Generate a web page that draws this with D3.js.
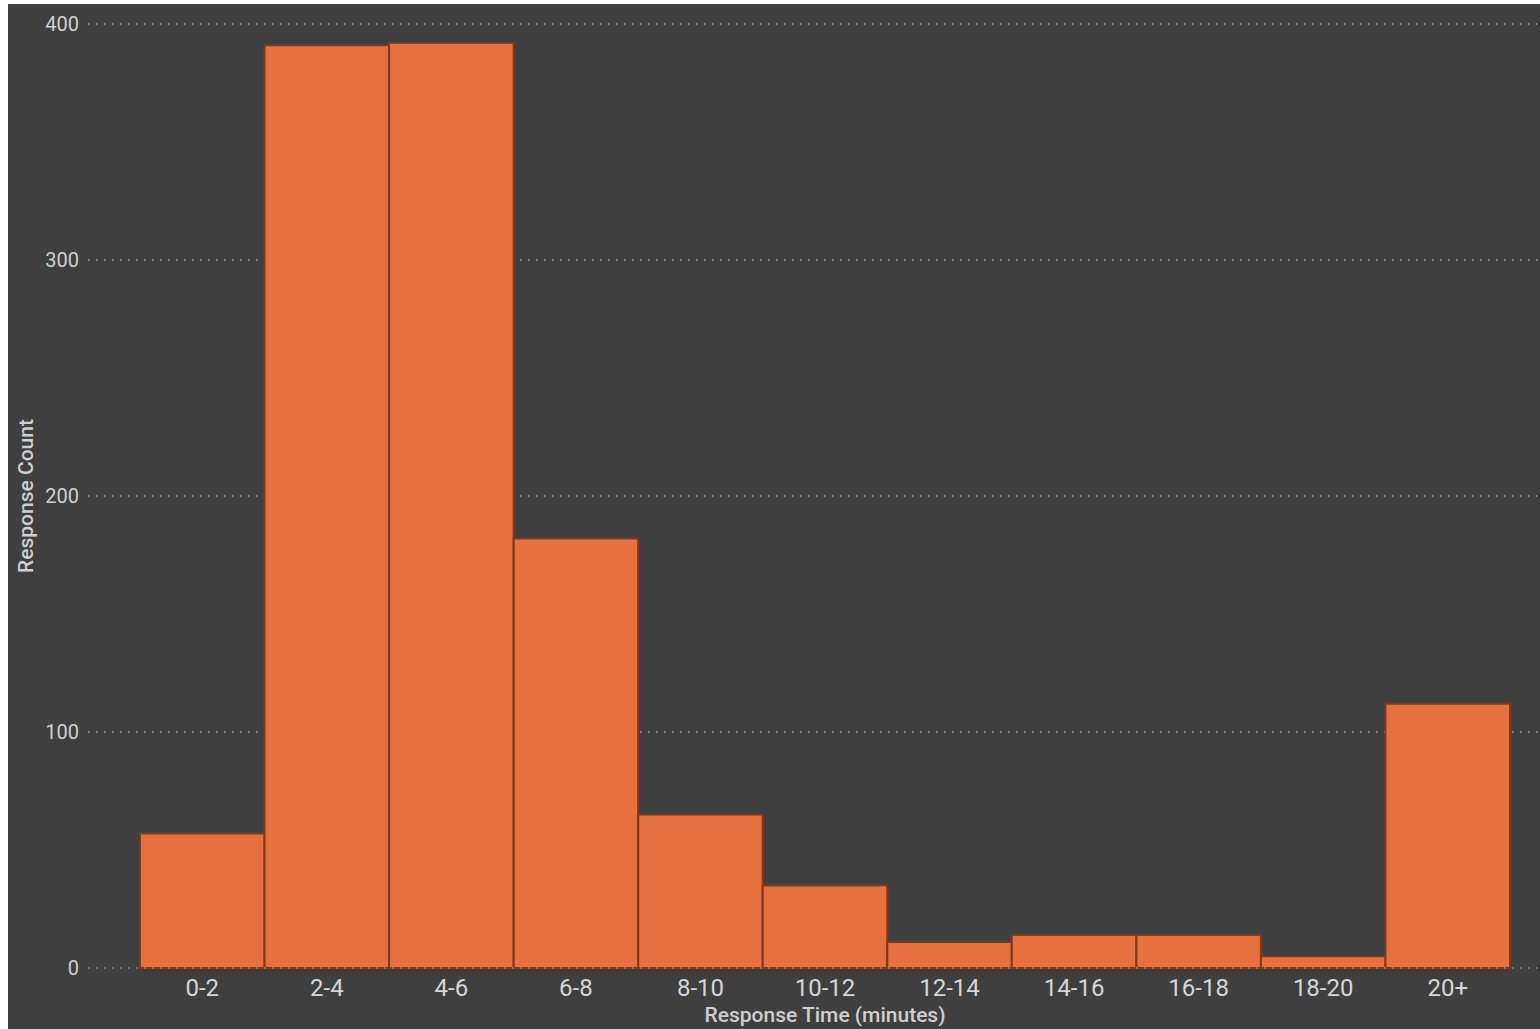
<!DOCTYPE html>
<html>
<head>
<meta charset="utf-8">
<script src="https://cdn.jsdelivr.net/npm/d3@7"></script>
<style>
html,body{margin:0;padding:0;background:#ffffff;}
svg{display:block;}
</style>
</head>
<body>
<svg id="chart" width="1540" height="1029"></svg>
<script>
const categories = ["0-2","2-4","4-6","6-8","8-10","10-12","12-14","14-16","16-18","18-20","20+"];
const counts = [57, 391, 392, 182, 65, 35, 11, 14, 14, 5, 112];
const yTicks = [0, 100, 200, 300, 400];
const xTitle = "Response Time (minutes)";
const yTitle = "Response Count";

const svg = d3.select("#chart");
const W = 1540, H = 1029;
const FONT = "Roboto, 'DejaVu Sans', sans-serif";

svg.append("rect").attr("x", 8).attr("y", 4).attr("width", W - 8).attr("height", H - 4).attr("fill", "#3f3f3f");

const x = d3.scaleBand().domain(categories).range([140, 1510]).padding(0);
const y = d3.scaleLinear().domain([0, 400]).range([968, 24]);

// grid lines
svg.append("g").selectAll("line").data(yTicks.filter(d => d > 0)).join("line")
  .attr("x1", 88).attr("x2", W)
  .attr("y1", d => y(d)).attr("y2", d => y(d))
  .attr("stroke", "#a8a8a8").attr("stroke-width", 1.4)
  .attr("stroke-dasharray", "1.5,6.5");

// bars
svg.append("g").selectAll("rect").data(categories).join("rect")
  .attr("x", d => x(d))
  .attr("width", x.bandwidth())
  .attr("y", (d, i) => y(counts[i]))
  .attr("height", (d, i) => y(0) - y(counts[i]))
  .attr("fill", "#e6703e")
  .attr("stroke", "#82391a")
  .attr("stroke-width", 2);

// zero line on top
svg.append("line")
  .attr("x1", 88).attr("x2", W)
  .attr("y1", y(0)).attr("y2", y(0))
  .attr("stroke", "#a8a8a8").attr("stroke-width", 1.4)
  .attr("stroke-dasharray", "1.5,6.5").attr("opacity", 0.8);

// y axis labels
const yAxis = d3.axisLeft(y).tickValues(yTicks).tickSize(0).tickPadding(0);
const yg = svg.append("g").attr("transform", "translate(79,0)").call(yAxis);
yg.select(".domain").remove();
yg.selectAll("text")
  .attr("fill", "#cfcfcf")
  .style("font-family", FONT)
  .style("font-size", "20px");

// x axis labels
const xAxis = d3.axisBottom(x).tickSize(0).tickPadding(0);
const xg = svg.append("g").attr("transform", "translate(0,979)").call(xAxis);
xg.select(".domain").remove();
xg.selectAll("text")
  .attr("fill", "#d6d6d6")
  .attr("dy", "0.71em")
  .style("font-family", FONT)
  .style("font-size", "24px");

// axis titles
svg.append("text")
  .attr("x", 825).attr("y", 1022)
  .attr("text-anchor", "middle")
  .attr("fill", "#cfcfcf")
  .style("font-family", FONT)
  .style("font-size", "21px").style("font-weight", 500)
  .text(xTitle);

svg.append("text")
  .attr("transform", "translate(33,496) rotate(-90)")
  .attr("text-anchor", "middle")
  .attr("fill", "#cfcfcf")
  .style("font-family", FONT)
  .style("font-size", "21px").style("font-weight", 500)
  .text(yTitle);
</script>
</body>
</html>
